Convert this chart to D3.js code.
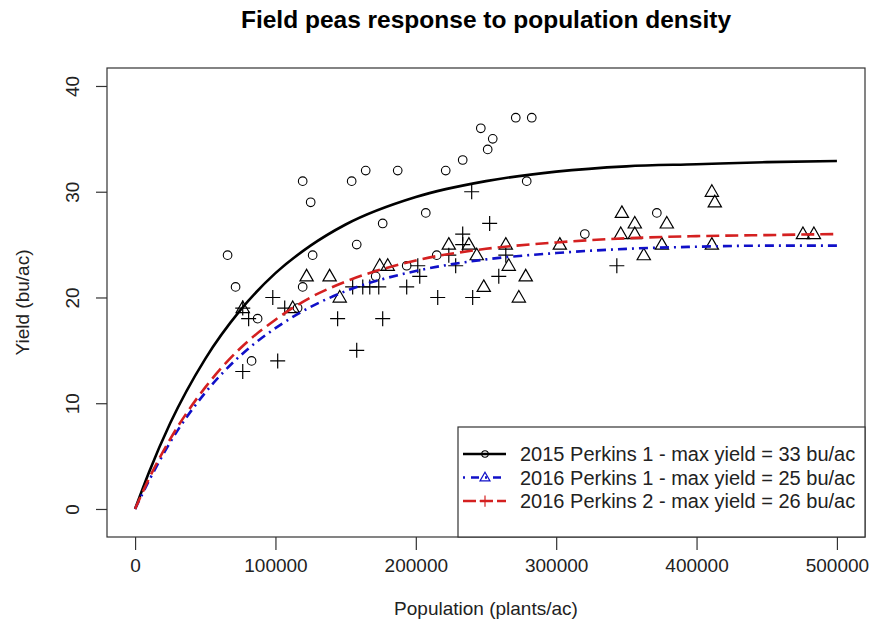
<!DOCTYPE html>
<html>
<head>
<meta charset="utf-8">
<script src="https://cdn.jsdelivr.net/npm/d3@7"></script>
<style>
  body { margin: 0; background: #fff; }
  svg { display: block; font-family: "Liberation Sans", Arial, sans-serif; }
  .tick text { font-size: 19px; fill: #222; }
</style>
</head>
<body>
<div class="chart"></div>
<script>
// observed points: [population, yield]
const perkins1_2015 = [
  [65900, 24], [71600, 21], [87300, 18], [83000, 14], [119400, 31], [125100, 29],
  [126500, 24], [119400, 21], [115800, 19], [154300, 31], [164300, 32], [187100, 32],
  [157900, 25], [176400, 27], [171400, 22], [193500, 23], [214900, 24], [207100, 28],
  [221300, 32], [233400, 33], [251200, 34], [254800, 35], [246300, 36], [271200, 37],
  [282600, 37], [279000, 31], [320400, 26], [371700, 28]
]
const perkins1_2016 = [
  [76700, 19], [112300, 19], [122200, 22], [138600, 22], [145800, 20], [174300, 23],
  [180000, 23], [223500, 25], [237800, 25], [243400, 24], [264100, 25], [266200, 23],
  [278300, 22], [248400, 21], [273400, 20], [302600, 25], [346800, 28], [356000, 27],
  [346000, 26], [356000, 26], [362400, 24], [378800, 27], [375300, 25], [410900, 30],
  [413000, 29], [410900, 25], [475800, 26], [483600, 26]
]
const perkins2_2016 = [
  [76700, 19], [80900, 18], [76700, 13], [98100, 20], [106600, 19], [101600, 14],
  [144300, 18], [157900, 15], [176400, 18], [155000, 21], [162200, 21], [167200, 21],
  [173600, 21], [193500, 21], [201400, 23], [202800, 22], [215600, 20], [223500, 24],
  [228400, 23], [233400, 26], [233400, 25], [239800, 30], [252600, 27], [259100, 22],
  [240500, 20], [264100, 24], [343200, 23]
]

// fitted curves at these populations
const curveX = [0, 10000, 25000, 50000, 75000, 100000, 125000, 150000, 200000, 250000, 300000, 350000, 400000, 450000, 500000]
const fit1_2015 = [0, 3.5, 8.1, 14.2, 18.8, 22.3, 24.9, 26.9, 29.5, 31.0, 31.9, 32.4, 32.6, 32.8, 32.9]
const fit1_2016 = [0, 2.7, 6.3, 11.0, 14.5, 17.1, 19.1, 20.6, 22.5, 23.6, 24.2, 24.6, 24.8, 24.9, 24.9]
const fit2_2016 = [0, 2.9, 6.6, 11.5, 15.2, 17.9, 20.0, 21.5, 23.5, 24.6, 25.2, 25.6, 25.8, 25.9, 26.0]

const xTicks = [0, 100000, 200000, 300000, 400000, 500000]
const yTicks = [0, 10, 20, 30, 40]
const legendLabels = [
  "2015 Perkins 1 - max yield = 33 bu/ac",
  "2016 Perkins 1 - max yield = 25 bu/ac",
  "2016 Perkins 2 - max yield = 26 bu/ac"
]

const width = 872
const height = 629
const box = { left: 107, right: 865, top: 68, bottom: 537 }

const svg = d3.select(".chart").append("svg")
  .attr("width", width)
  .attr("height", height)

const x = d3.scaleLinear().domain([-20000, 520000]).range([box.left, box.right])
const y = d3.scaleLinear().domain([-2.65, 41.7]).range([box.bottom, box.top])

const series = [
  { pts: perkins1_2015, fit: fit1_2015, color: "#000", dash: null, shape: "circle" },
  { pts: perkins1_2016, fit: fit1_2016, color: "#1010c8", dash: "9,5,2,5", shape: "triangle" },
  { pts: perkins2_2016, fit: fit2_2016, color: "#d42020", dash: "13,6", shape: "plus" }
]

function drawSymbol(g, shape, px, py, scale, stroke) {
  if (shape === "circle") {
    g.append("circle").attr("cx", px).attr("cy", py).attr("r", 4.3 * scale)
      .attr("fill", "none").attr("stroke", stroke).attr("stroke-width", 1.1)
  } else if (shape === "triangle") {
    const s = 7 * scale
    g.append("path")
      .attr("d", `M${px},${py - s}L${px + s * 0.95},${py + s * 0.65}L${px - s * 0.95},${py + s * 0.65}Z`)
      .attr("fill", "none").attr("stroke", stroke).attr("stroke-width", 1.2)
  } else {
    const s = 7.5 * scale
    g.append("path")
      .attr("d", `M${px - s},${py}H${px + s}M${px},${py - s}V${py + s}`)
      .attr("fill", "none").attr("stroke", stroke).attr("stroke-width", 1.2)
  }
}

// points
const $points = svg.append("g")
series.forEach(s => {
  s.pts.forEach(d => drawSymbol($points, s.shape, x(d[0]), y(d[1]), 1, "#000"))
})

// fitted lines
const line = d3.line()
  .x(d => x(d[0]))
  .y(d => y(d[1]))
  .curve(d3.curveMonotoneX)

series.forEach(s => {
  svg.append("path")
    .datum(curveX.map((v, i) => [v, s.fit[i]]))
    .attr("d", line)
    .attr("fill", "none")
    .attr("stroke", s.color)
    .attr("stroke-width", 2.6)
    .attr("stroke-dasharray", s.dash)
})

// box
svg.append("rect")
  .attr("x", box.left).attr("y", box.top)
  .attr("width", box.right - box.left).attr("height", box.bottom - box.top)
  .attr("fill", "none").attr("stroke", "#333").attr("stroke-width", 1.2)

// axes
const $xAxis = svg.append("g")
  .attr("transform", `translate(0, ${box.bottom})`)
  .call(d3.axisBottom(x).tickValues(xTicks).tickSize(13).tickPadding(9).tickFormat(d3.format("d")))
$xAxis.select(".domain").remove()
$xAxis.selectAll(".tick line").attr("stroke", "#333").attr("stroke-width", 1.2)

const $yAxis = svg.append("g")
  .attr("transform", `translate(${box.left}, 0)`)
  .call(d3.axisLeft(y).tickValues(yTicks).tickSize(11))
$yAxis.select(".domain").remove()
$yAxis.selectAll(".tick line").attr("stroke", "#333").attr("stroke-width", 1.2)
$yAxis.selectAll(".tick text")
  .attr("x", null).attr("dy", null)
  .attr("text-anchor", "middle")
  .attr("transform", "translate(-28, 0) rotate(-90)")

// titles
svg.append("text")
  .attr("x", (box.left + box.right) / 2).attr("y", 28)
  .attr("text-anchor", "middle")
  .attr("font-weight", "bold").attr("font-size", 24.5)
  .text("Field peas response to population density")

svg.append("text")
  .attr("x", (box.left + box.right) / 2).attr("y", 615)
  .attr("text-anchor", "middle").attr("font-size", 19).attr("fill", "#222")
  .text("Population (plants/ac)")

svg.append("text")
  .attr("transform", `translate(29, ${(box.top + box.bottom) / 2}) rotate(-90)`)
  .attr("text-anchor", "middle").attr("font-size", 19).attr("fill", "#222")
  .text("Yield (bu/ac)")

// legend
const lg = { left: 458, top: 427, row: 23.5 }
const $legend = svg.append("g")
$legend.append("rect")
  .attr("x", lg.left).attr("y", lg.top)
  .attr("width", box.right - lg.left).attr("height", box.bottom - lg.top)
  .attr("fill", "#fff").attr("stroke", "#333").attr("stroke-width", 1.2)

series.forEach((s, i) => {
  const cy = lg.top + 27 + i * lg.row
  $legend.append("line")
    .attr("x1", lg.left + 5).attr("x2", lg.left + 48)
    .attr("y1", cy).attr("y2", cy)
    .attr("stroke", s.color).attr("stroke-width", 2.6)
    .attr("stroke-dasharray", s.dash ? (i === 1 ? "2,6,8,6" : "13,4") : null)
  drawSymbol($legend, s.shape, lg.left + 27, cy, 0.75, s.color)
  $legend.append("text")
    .attr("x", lg.left + 62).attr("y", cy + 7)
    .attr("font-size", 20).attr("fill", "#222")
    .text(legendLabels[i])
})
</script>
</body>
</html>
